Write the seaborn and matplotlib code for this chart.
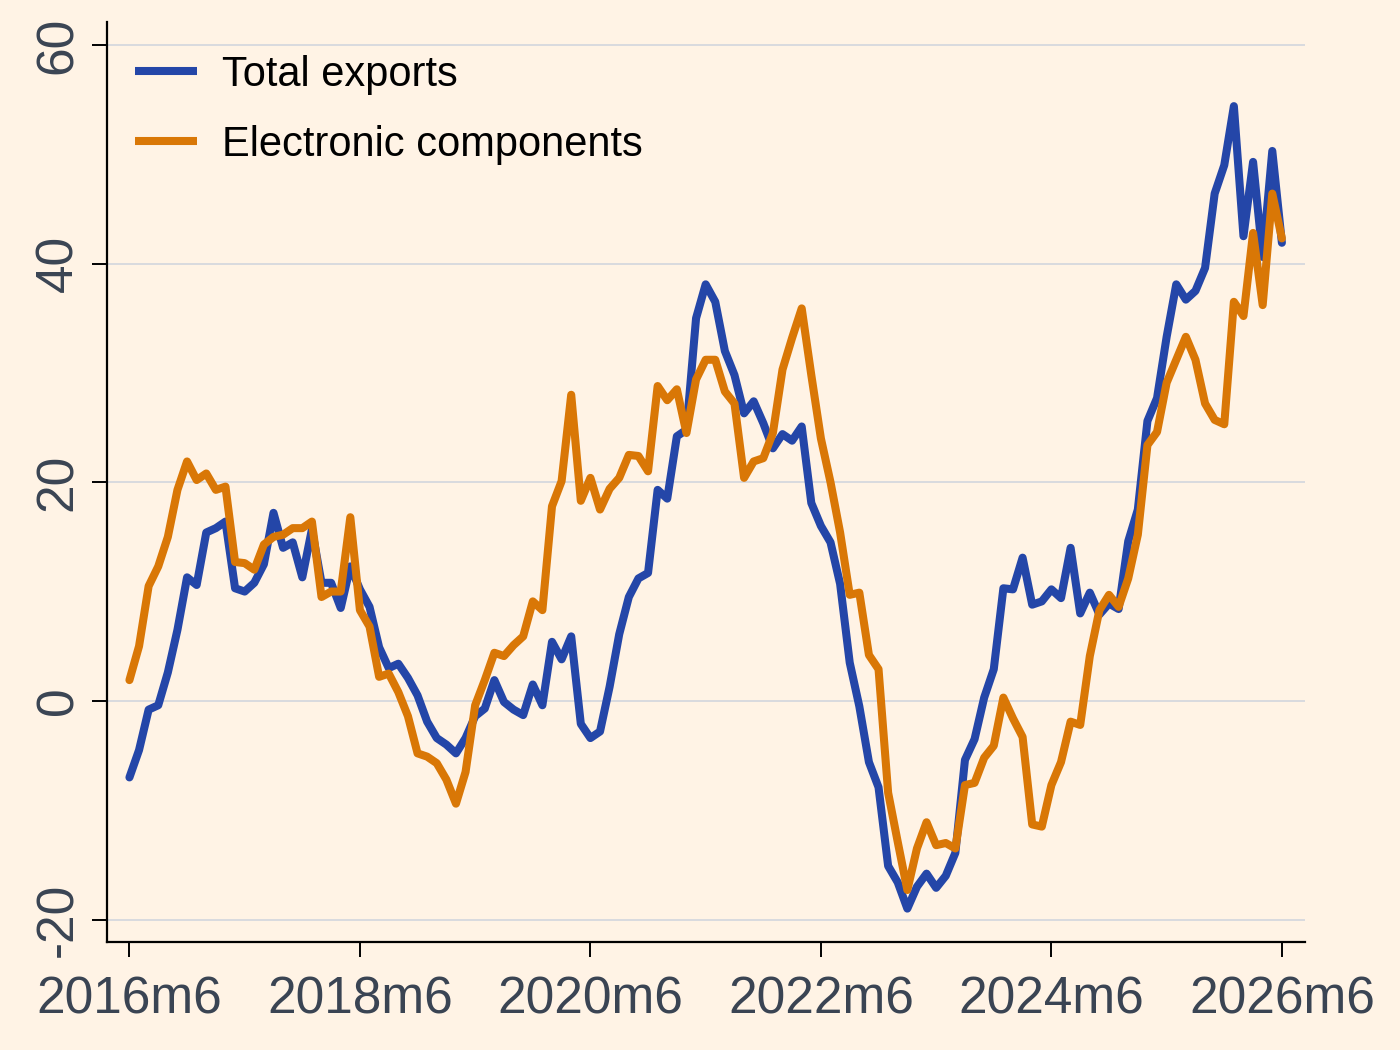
import matplotlib
matplotlib.use("Agg")
import matplotlib.pyplot as plt
import seaborn as sns
import numpy as np
import pandas as pd

# monthly series, 2016m6 .. 2026m6 (121 months)
total_exports = [
    -7.0, -4.5, -0.8, -0.4, 2.6, 6.5, 11.3, 10.6, 15.4, 15.8,
    16.4, 10.3, 10.0, 10.8, 12.5, 17.2, 14.0, 14.5, 11.3, 15.7,
    10.8, 10.8, 8.5, 12.3, 10.2, 8.6, 4.9, 3.0, 3.4, 2.1,
    0.5, -1.9, -3.4, -4.0, -4.8, -3.4, -1.4, -0.7, 1.9, -0.1,
    -0.8, -1.3, 1.5, -0.4, 5.4, 3.8, 5.9, -2.1, -3.4, -2.8,
    1.3, 6.1, 9.5, 11.2, 11.7, 19.3, 18.5, 24.2, 24.8, 35.0,
    38.1, 36.5, 32.0, 29.8, 26.3, 27.4, 25.4, 23.1, 24.4, 23.8,
    25.1, 18.1, 16.0, 14.5, 10.7, 3.5, -0.5, -5.6, -7.9, -15.1,
    -16.6, -19.0, -17.0, -15.8, -17.1, -16.0, -13.9, -5.4, -3.5, 0.3,
    2.9, 10.3, 10.2, 13.1, 8.8, 9.1, 10.2, 9.4, 14.0, 8.0,
    9.9, 7.9, 8.9, 8.4, 14.6, 17.5, 25.6, 27.7, 33.3, 38.1,
    36.7, 37.5, 39.6, 46.4, 49.0, 54.4, 42.5, 49.3, 40.6, 50.3,
    41.9,
]
electronic_components = [
    1.9, 5.0, 10.5, 12.3, 15.0, 19.3, 21.9, 20.2, 20.8, 19.3,
    19.6, 12.7, 12.6, 12.0, 14.3, 15.0, 15.2, 15.8, 15.8, 16.4,
    9.5, 10.0, 10.0, 16.8, 8.3, 6.8, 2.2, 2.5, 0.8, -1.4,
    -4.8, -5.1, -5.7, -7.2, -9.4, -6.5, -0.4, 1.9, 4.4, 4.1,
    5.1, 5.9, 9.1, 8.3, 17.8, 20.1, 28.0, 18.3, 20.4, 17.5,
    19.4, 20.4, 22.5, 22.4, 21.0, 28.8, 27.5, 28.5, 24.5, 29.4,
    31.2, 31.2, 28.3, 27.2, 20.4, 21.9, 22.2, 24.5, 30.3, 33.2,
    35.9, 29.8, 24.0, 20.0, 15.4, 9.7, 9.9, 4.2, 2.9, -8.4,
    -12.9, -17.3, -13.5, -11.1, -13.2, -13.0, -13.5, -7.7, -7.5, -5.2,
    -4.1, 0.3, -1.6, -3.3, -11.3, -11.5, -7.7, -5.6, -1.9, -2.2,
    4.1, 8.3, 9.7, 8.6, 11.2, 15.2, 23.4, 24.6, 29.1, 31.2,
    33.3, 31.2, 27.2, 25.7, 25.3, 36.5, 35.2, 42.8, 36.2, 46.4,
    42.3,
]
month_index = list(range(len(total_exports)))
tick_months = [0, 24, 48, 72, 96, 120]
tick_labels = ["2016m6", "2018m6", "2020m6", "2022m6", "2024m6", "2026m6"]
y_ticks = [-20, 0, 20, 40, 60]

BG = "#fff3e5"
BLUE = "#2446a8"
ORANGE = "#d97706"
TEXT = "#3a4453"

sns.set_theme(style="white")
plt.rcParams["font.family"] = ["Liberation Sans", "DejaVu Sans"]

df = pd.DataFrame({
    "month": month_index,
    "Total exports": total_exports,
    "Electronic components": electronic_components,
})

fig = plt.figure(figsize=(14, 10.5), dpi=100, facecolor=BG)
ax = fig.add_axes([0.0764, 0.1029, 0.8557, 0.8762])
ax.set_facecolor(BG)

line_kw = dict(lw=5.8, solid_joinstyle="round", solid_capstyle="round")
sns.lineplot(data=df, x="month", y="Total exports", color=BLUE,
             label="Total exports", ax=ax, zorder=3, **line_kw)
sns.lineplot(data=df, x="month", y="Electronic components", color=ORANGE,
             label="Electronic components", ax=ax, zorder=4, **line_kw)

ax.set_xlim(-2.34, 122.4)
ax.set_ylim(-22.05, 62.1)
ax.set_xticks(tick_months)
ax.set_xticklabels(tick_labels)
ax.set_yticks(y_ticks)
ax.set_yticklabels([str(v) for v in y_ticks], rotation=90, va="center")
ax.set_xlabel("")
ax.set_ylabel("")

ax.yaxis.grid(True, color="#d6d8de", lw=1.3)
ax.xaxis.grid(False)
ax.set_axisbelow(True)

for side in ["top", "right"]:
    ax.spines[side].set_visible(False)
for side in ["left", "bottom"]:
    ax.spines[side].set_color("black")
    ax.spines[side].set_linewidth(1.6)

ax.tick_params(axis="both", which="major", length=11, width=1.4, color="black",
               labelsize=37, labelcolor=TEXT, left=True, bottom=True)
ax.tick_params(axis="x", pad=13)
ax.tick_params(axis="y", pad=6)

leg = ax.legend(loc="upper left", bbox_to_anchor=(0.0234, 0.964), frameon=False,
                fontsize=30, handlelength=1.5, handletextpad=0.58,
                labelspacing=0.71, borderpad=0, borderaxespad=0)
for line in leg.get_lines():
    line.set_linewidth(5.8)
    line.set_solid_capstyle("butt")
for txt in leg.get_texts():
    txt.set_color("black")

fig.savefig("out.png", dpi=100, facecolor=BG)
